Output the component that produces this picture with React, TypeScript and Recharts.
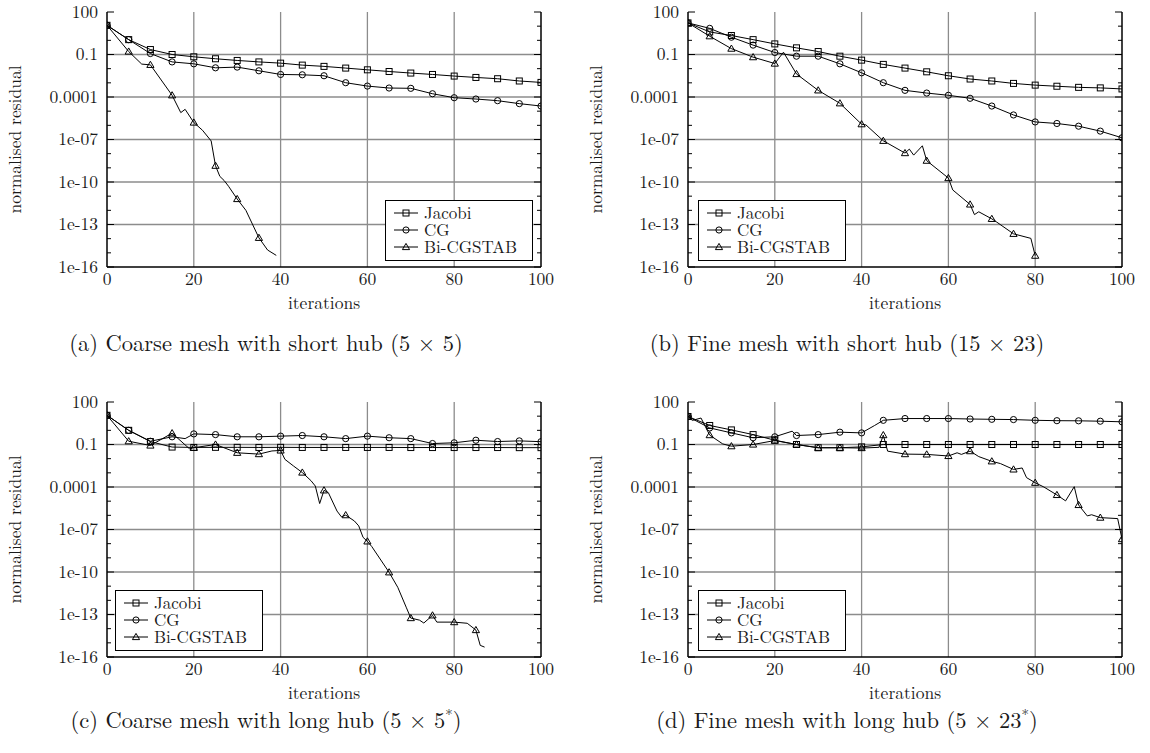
import React from 'react';
import { LineChart, Line, XAxis, YAxis, ReferenceLine, Legend } from 'recharts';

const FONT = '"Latin Modern Roman", "Liberation Serif", serif';
const FS = 17.5;
const TXT = '#1a1a1a';

// ---------- axes ----------
const X_TICKS = [0, 20, 40, 60, 80, 100];
const GRID_X = [20, 40, 60, 80];
const Y_DECADES = [1e-16, 1e-15, 1e-14, 1e-13, 1e-12, 1e-11, 1e-10, 1e-9, 1e-8, 1e-7, 1e-6, 1e-5, 1e-4, 1e-3, 1e-2, 1e-1, 1, 10, 100];
const Y_MAJOR = [100, 0.1, 1e-4, 1e-7, 1e-10, 1e-13, 1e-16];
const Y_MAJOR_LABELS = ['100', '0.1', '0.0001', '1e-07', '1e-10', '1e-13', '1e-16'];
const GRID_Y = [0.1, 1e-4, 1e-7, 1e-10, 1e-13];
const SERIES_NAMES = ['Jacobi', 'CG', 'Bi-CGSTAB'];

// ---------- data ----------
const ITER5 = [0, 5, 10, 15, 20, 25, 30, 35, 40, 45, 50, 55, 60, 65, 70, 75, 80, 85, 90, 95, 100];

// (a) coarse mesh, short hub
const A_JACOBI = [11.5, 1.12, 0.224, 0.1, 0.069, 0.05, 0.038, 0.03, 0.0245, 0.0178, 0.0145, 0.011, 0.0083, 0.0063, 0.0049, 0.0039, 0.003, 0.0024, 0.00195, 0.00135, 0.00107];
const A_CG = [11.5, 1.12, 0.117, 0.03, 0.022, 0.0115, 0.0129, 0.0071, 0.0039, 0.0037, 0.00316, 0.00102, 5.9e-4, 4.3e-4, 4.1e-4, 1.7e-4, 8.9e-5, 7.2e-5, 5.5e-5, 3.4e-5, 2.3e-5];
const A_BICG_IT = [0, 5, 8, 10, 15, 17, 18, 20, 22, 24, 25, 26, 27, 28, 30, 32, 35, 37, 39];
const A_BICG = [11.5, 0.162, 0.021, 0.0186, 1.32e-4, 7.9e-6, 1.35e-5, 1.58e-6, 4.5e-7, 7.9e-8, 1.41e-9, 2.5e-10, 1.26e-10, 5.0e-11, 6.3e-12, 1.0e-12, 1.15e-14, 1.58e-15, 6.6e-16];

// (b) fine mesh, short hub
const B_JACOBI = [17, 3.9, 2.19, 1.12, 0.56, 0.295, 0.162, 0.076, 0.04, 0.02, 0.011, 0.006, 0.00316, 0.00186, 0.00135, 9.1e-4, 6.9e-4, 5.75e-4, 4.8e-4, 4.4e-4, 3.7e-4];
const B_CG = [17, 7.0, 1.66, 0.46, 0.138, 0.076, 0.076, 0.022, 0.0051, 0.00102, 2.95e-4, 1.9e-4, 1.32e-4, 8.1e-5, 2.3e-5, 5.4e-6, 1.74e-6, 1.35e-6, 8.7e-7, 3.9e-7, 1.32e-7];
const B_BICG_IT = [0, 5, 10, 15, 20, 22, 25, 30, 35, 40, 41, 45, 50, 51, 52, 54, 55, 60, 61, 65, 66, 67, 70, 71, 75, 79, 80];
const B_BICG = [17, 1.95, 0.26, 0.065, 0.023, 0.145, 0.0042, 2.95e-4, 3.6e-5, 1.2e-6, 1.07e-6, 8.1e-8, 1.1e-8, 2.1e-8, 7.9e-9, 3.6e-8, 3.2e-9, 1.9e-10, 2.75e-11, 2.6e-12, 5.0e-13, 7.9e-13, 2.5e-13, 1.58e-13, 2.2e-14, 1.05e-14, 6.3e-16];

// (c) coarse mesh, long hub
const C_JACOBI = [11.5, 1.0, 0.16, 0.066, 0.062, 0.063, 0.063, 0.062, 0.063, 0.062, 0.062, 0.062, 0.062, 0.062, 0.061, 0.061, 0.061, 0.061, 0.061, 0.06, 0.06];
const C_CG_IT = [0, 5, 10, 15, 18, 20, 25, 30, 35, 40, 45, 50, 55, 60, 65, 70, 75, 80, 85, 90, 95, 100];
const C_CG = [11.5, 1.0, 0.17, 0.35, 0.26, 0.56, 0.5, 0.35, 0.35, 0.39, 0.43, 0.35, 0.26, 0.39, 0.3, 0.26, 0.117, 0.132, 0.2, 0.162, 0.18, 0.158];
const C_BICG_IT = [0, 5, 10, 15, 19, 20, 25, 30, 35, 38, 40, 41, 43, 45, 47, 48, 49, 50, 51, 53, 54, 55, 57, 58, 59, 60, 61, 65, 67, 69, 70, 72, 73, 75, 76, 80, 83, 85, 86, 87];
const C_BICG = [11.5, 0.17, 0.085, 0.63, 0.05, 0.059, 0.1, 0.026, 0.021, 0.035, 0.038, 0.0089, 0.003, 0.00105, 2.8e-4, 1.17e-4, 6.8e-6, 5.8e-5, 4.0e-5, 2.0e-6, 7.9e-7, 1.03e-6, 4.0e-7, 1.8e-7, 2.8e-8, 1.45e-8, 6.3e-9, 9.5e-11, 8.3e-12, 2.95e-13, 5.6e-14, 4.0e-14, 2.5e-14, 8.7e-14, 2.9e-14, 2.9e-14, 2.4e-14, 8.0e-15, 6.6e-16, 5.0e-16];

// (d) fine mesh, long hub
const D_JACOBI = [9.5, 2.2, 1.07, 0.5, 0.2, 0.1, 0.059, 0.059, 0.068, 0.1, 0.1, 0.1, 0.1, 0.1, 0.1, 0.1, 0.1, 0.1, 0.1, 0.1, 0.1];
const D_CG_IT = [0, 2, 5, 10, 15, 20, 24, 25, 30, 35, 40, 43, 45, 50, 55, 60, 65, 70, 75, 80, 85, 90, 95, 100];
const D_CG = [9.5, 4.4, 1.48, 0.66, 0.3, 0.35, 0.87, 0.43, 0.5, 0.74, 0.66, 2.2, 5.1, 6.8, 6.8, 6.8, 6.3, 6.0, 5.75, 5.1, 4.8, 4.7, 4.4, 4.0];
const D_BICG_IT = [0, 1, 3, 5, 8, 10, 15, 20, 25, 30, 35, 40, 44, 45, 46, 50, 55, 60, 62, 63, 65, 67, 70, 72, 75, 77, 78, 80, 82, 85, 87, 89, 90, 92, 93, 95, 99, 100];
const D_BICG = [9.5, 5.0, 7.4, 0.46, 0.11, 0.076, 0.1, 0.19, 0.1, 0.059, 0.059, 0.056, 0.063, 0.46, 0.034, 0.021, 0.02, 0.0155, 0.026, 0.02, 0.034, 0.014, 0.0065, 0.0045, 0.00174, 0.0022, 4.6e-4, 2.0e-4, 1.0e-4, 2.75e-5, 1.05e-5, 1.05e-4, 5.4e-6, 9.1e-7, 1.1e-6, 6.9e-7, 5.9e-7, 2.1e-8];

type Pt = { x: number; y: number };
const zip = (xs: number[], ys: number[]): Pt[] => xs.map((x, i) => ({ x, y: ys[i] }));
type Kind = 'square' | 'circle' | 'triangle';
const KINDS: Kind[] = ['square', 'circle', 'triangle'];

const PANELS = [
  { key: 'a', left: 0, top: 0, data: [zip(ITER5, A_JACOBI), zip(ITER5, A_CG), zip(A_BICG_IT, A_BICG)], legend: { left: 385, top: 200 } },
  { key: 'b', left: 581, top: 0, data: [zip(ITER5, B_JACOBI), zip(ITER5, B_CG), zip(B_BICG_IT, B_BICG)], legend: { left: 117, top: 200 } },
  { key: 'c', left: 0, top: 390, data: [zip(ITER5, C_JACOBI), zip(C_CG_IT, C_CG), zip(C_BICG_IT, C_BICG)], legend: { left: 115, top: 200 } },
  { key: 'd', left: 581, top: 390, data: [zip(ITER5, D_JACOBI), zip(D_CG_IT, D_CG), zip(D_BICG_IT, D_BICG)], legend: { left: 117, top: 200 } },
];

const CAPTIONS = [
  { left: 0, top: 328, width: 532, parts: ['(a) Coarse mesh with short hub (5 × 5)', ''] },
  { left: 581, top: 328, width: 532, parts: ['(b) Fine mesh with short hub (15 × 23)', ''] },
  { left: 0, top: 705, width: 532, parts: ['(c) Coarse mesh with long hub (5 × 5', '*', ')'] },
  { left: 581, top: 705, width: 532, parts: ['(d) Fine mesh with long hub (5 × 23', '*', ')'] },
];

// ---------- marks ----------
const Marker = ({ kind, cx, cy }: { kind: Kind; cx: number; cy: number }) => {
  const common = { fill: 'none', stroke: '#000', strokeWidth: 1 };
  if (kind === 'square') return <rect x={cx - 3} y={cy - 3} width={6} height={6} {...common} />;
  if (kind === 'circle') return <circle cx={cx} cy={cy} r={3.1} {...common} />;
  return <polygon points={`${cx},${cy - 3.6} ${cx - 3.6},${cy + 2.6} ${cx + 3.6},${cy + 2.6}`} {...common} />;
};

const makeDot = (kind: Kind) => (props: any) => {
  const { cx, cy, payload, index } = props;
  if (!payload || cx == null || cy == null || payload.x % 5 !== 0) return <g key={`e-${index}`} />;
  return (
    <g key={`m-${index}`}>
      <Marker kind={kind} cx={cx} cy={cy} />
    </g>
  );
};

const majorLabel = (v: number): string | null => {
  const e = Math.round(Math.log10(v));
  const i = Y_MAJOR.findIndex((m) => Math.round(Math.log10(m)) === e);
  return i >= 0 ? Y_MAJOR_LABELS[i] : null;
};

const LeftTick = (props: any) => {
  const { x, y, payload } = props;
  const label = majorLabel(payload.value);
  return (
    <g>
      <line x1={x} x2={x + (label ? 7 : 4)} y1={y} y2={y} stroke="#000" strokeWidth={1} />
      {label && (
        <text x={x - 9} y={y} dy="0.34em" textAnchor="end" fontFamily={FONT} fontSize={FS} fill={TXT}>
          {label}
        </text>
      )}
    </g>
  );
};

const RightTick = (props: any) => {
  const { x, y, payload } = props;
  const label = majorLabel(payload.value);
  return <line x1={x} x2={x - (label ? 7 : 4)} y1={y} y2={y} stroke="#000" strokeWidth={1} />;
};

const LegendBox = () => (
  <div
    style={{
      width: 148,
      height: 61,
      boxSizing: 'border-box',
      border: '1.3px solid #000',
      background: '#fff',
      paddingTop: 3,
      fontFamily: FONT,
      fontSize: 17,
      color: TXT,
    }}
  >
    {SERIES_NAMES.map((name, i) => (
      <div key={name} style={{ height: 17, display: 'flex', alignItems: 'center' }}>
        <svg width={38} height={16} style={{ flex: 'none' }}>
          <line x1={8} x2={32} y1={8} y2={8} stroke="#000" strokeWidth={1} />
          <Marker kind={KINDS[i]} cx={20} cy={8} />
        </svg>
        <span style={{ lineHeight: '15px' }}>{name}</span>
      </div>
    ))}
  </div>
);

const Panel = ({ data, legend }: { data: Pt[][]; legend: { left: number; top: number } }) => (
  <LineChart width={580} height={320} margin={{ top: 12, right: 29, bottom: 8, left: 27 }} style={{ overflow: 'visible' }}>
    <XAxis
      xAxisId="b"
      type="number"
      dataKey="x"
      domain={[0, 100]}
      ticks={X_TICKS}
      allowDataOverflow
      height={45}
      tickSize={0}
      tickMargin={6}
      tickLine={false}
      axisLine={{ stroke: '#000', strokeWidth: 1.5 }}
      tick={{ fontFamily: FONT, fontSize: FS, fill: TXT }}
      label={{ value: 'iterations', position: 'insideBottom', offset: 3, style: { fontFamily: FONT, fontSize: FS, fill: TXT } }}
    />
    <XAxis
      xAxisId="t"
      orientation="top"
      type="number"
      dataKey="x"
      domain={[0, 100]}
      allowDataOverflow
      height={0}
      tick={false}
      tickLine={false}
      axisLine={{ stroke: '#000', strokeWidth: 1.5 }}
    />
    <YAxis
      yAxisId="l"
      type="number"
      scale="log"
      domain={[1e-16, 100]}
      allowDataOverflow
      ticks={Y_DECADES}
      interval={0}
      width={80}
      tickSize={0}
      tickMargin={0}
      tickLine={false}
      axisLine={{ stroke: '#000', strokeWidth: 1.5 }}
      tick={<LeftTick />}
      label={{
        value: 'normalised residual',
        angle: -90,
        position: 'left',
        offset: 12,
        style: { textAnchor: 'middle', fontFamily: FONT, fontSize: FS, fill: TXT },
      }}
    />
    <YAxis
      yAxisId="r"
      orientation="right"
      type="number"
      scale="log"
      domain={[1e-16, 100]}
      allowDataOverflow
      ticks={Y_DECADES}
      interval={0}
      width={10}
      tickSize={0}
      tickMargin={0}
      tickLine={false}
      axisLine={{ stroke: '#000', strokeWidth: 1.5 }}
      tick={<RightTick />}
    />
    {GRID_Y.map((v) => (
      <ReferenceLine key={`gy${v}`} xAxisId="b" yAxisId="l" y={v} stroke="#8c8c8c" strokeWidth={1.3} />
    ))}
    {GRID_X.map((v) => (
      <ReferenceLine key={`gx${v}`} xAxisId="b" yAxisId="l" x={v} stroke="#8c8c8c" strokeWidth={1.3} />
    ))}
    {data.map((d, i) => (
      <Line
        key={SERIES_NAMES[i]}
        name={SERIES_NAMES[i]}
        data={d}
        dataKey="y"
        xAxisId="b"
        yAxisId="l"
        type="linear"
        stroke="#000"
        strokeWidth={1}
        dot={makeDot(KINDS[i])}
        activeDot={false}
        isAnimationActive={false}
      />
    ))}
    <Legend
      layout="vertical"
      align="center"
      verticalAlign="middle"
      wrapperStyle={{ position: 'absolute', left: legend.left, top: legend.top, width: 148, height: 61 }}
      content={() => <LegendBox />}
    />
  </LineChart>
);

export default function App() {
  return (
    <div style={{ position: 'absolute', left: 0, top: 0, width: 1150, height: 753, background: '#fff', fontFamily: FONT }}>
      {PANELS.map((p) => (
        <div key={p.key} style={{ position: 'absolute', left: p.left, top: p.top, width: 580, height: 320 }}>
          <Panel data={p.data} legend={p.legend} />
        </div>
      ))}
      {CAPTIONS.map((c, i) => (
        <div
          key={i}
          style={{
            position: 'absolute',
            left: c.left,
            top: c.top,
            width: c.width,
            textAlign: 'center',
            fontFamily: FONT,
            fontSize: 22.5,
            lineHeight: '28px',
            color: TXT,
            whiteSpace: 'nowrap',
          }}
        >
          {c.parts[0]}
          {c.parts[1] ? <sup style={{ fontSize: 15, lineHeight: 0 }}>{c.parts[1]}</sup> : null}
          {c.parts[2] || ''}
        </div>
      ))}
    </div>
  );
}
